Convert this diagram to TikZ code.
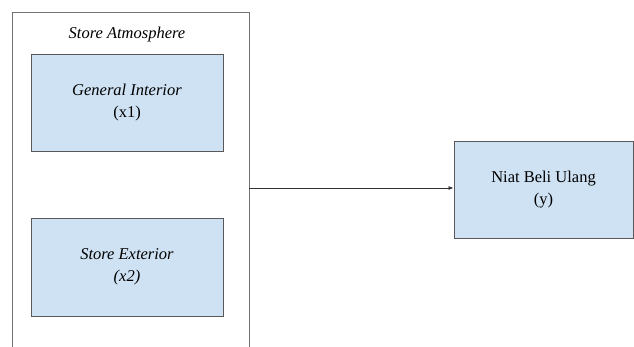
\documentclass[tikz,border=0pt]{standalone}
\usepackage{fontspec}
\setmainfont{Liberation Serif}
\usepackage{tikz}
\usepackage{xcolor}
\usetikzlibrary{arrows.meta, positioning, calc}

\definecolor{boxblue}{HTML}{CFE2F3}
\definecolor{boxline}{HTML}{595959}

\begin{document}
\begin{tikzpicture}[x=1pt, y=1pt,
    varbox/.style={draw=boxline, line width=0.9pt, fill=boxblue, align=center,
        font=\fontsize{16.5}{22}\selectfont, inner sep=0pt},
    arr/.style={-{Latex[length=5pt, width=4pt]}, line width=0.8pt, draw=black!80}]
\useasboundingbox (0,0) rectangle (634,-347);

% Store Atmosphere container (cut at the bottom)
\draw[draw=black!55, line width=0.9pt] (12,-347) |- (249,-12) -- (249,-347);
\node[font=\fontsize{16.5}{22}\selectfont\itshape] (atm) at (127,-35) {Store Atmosphere};

% dimensions
\node[varbox, minimum width=192, minimum height=97] (x1) at (127,-102.5)
    {\textit{General Interior}\\(x1)};
\node[varbox, minimum width=192, minimum height=98, font=\fontsize{16.5}{22}\selectfont\itshape]
    (x2) at (127,-267) {Store Exterior\\(x2)};

% dependent variable
\node[varbox, minimum width=179, minimum height=97] (y) at (543.5,-189.5)
    {Niat Beli Ulang\\(y)};

\coordinate (atmr) at (249,-188);
\draw[arr] (atmr) -- (atmr -| y.west);
\end{tikzpicture}
\end{document}
